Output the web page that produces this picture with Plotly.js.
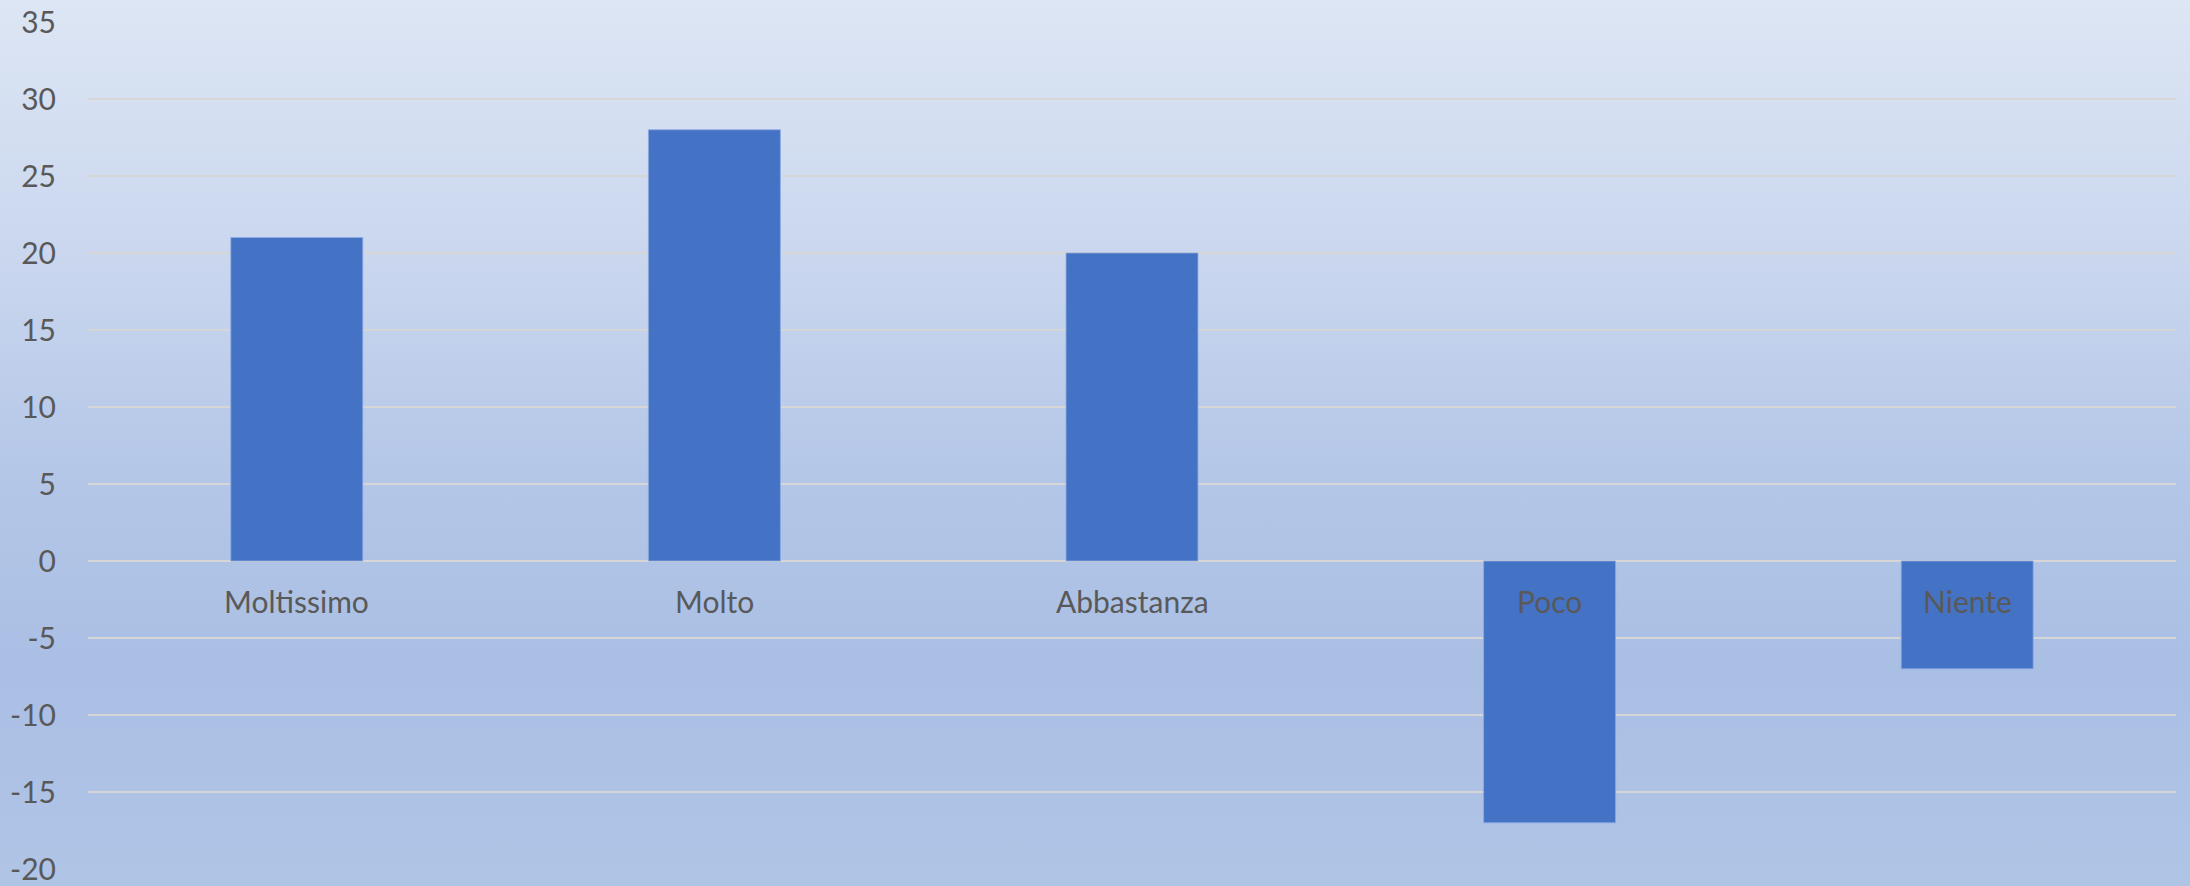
<!DOCTYPE html>
<html>
<head>
<meta charset="utf-8">
<script src="https://cdn.plot.ly/plotly-3.0.1.min.js"></script>
<style>
html, body { margin: 0; padding: 0; }
#chart {
  width: 2190px; height: 886px;
  background: linear-gradient(to bottom, #dde6f4 0%, #c9d6ee 30%, #b3c6e7 55%, #aabfe4 75%, #b0c4e6 100%);
}
</style>
</head>
<body>
<div id="chart"></div>
<script>
const categories = ["Moltissimo", "Molto", "Abbastanza", "Poco", "Niente"];
const values = [21, 28, 20, -17, -7];
const yTicks = [35, 30, 25, 20, 15, 10, 5, 0, -5, -10, -15, -20];

const FONT = "Lato, 'Open Sans', sans-serif";
const labelColor = "#595959";

const trace = {
  type: "bar",
  x: categories,
  y: values,
  marker: { color: "#4472c4", line: { color: "rgba(140,170,225,0.8)", width: 1 } },
  hoverinfo: "x+y"
};

const annotations = categories.map(c => ({
  x: c, y: 0, xref: "x", yref: "y",
  text: c, showarrow: false,
  yanchor: "top", xanchor: "center", yshift: -20,
  font: { family: FONT, size: 30, color: labelColor }
}));

const layout = {
  width: 2190, height: 886,
  margin: { l: 88, r: 14, t: 22, b: 17 },
  paper_bgcolor: "rgba(0,0,0,0)",
  plot_bgcolor: "rgba(0,0,0,0)",
  showlegend: false,
  bargap: 0.684,
  xaxis: { showticklabels: false, showgrid: false, zeroline: false, showline: false, ticks: "" },
  yaxis: {
    range: [-20, 35],
    tickvals: yTicks,
    ticktext: yTicks.map(String),
    showgrid: true, gridcolor: "#d6d6d6", gridwidth: 2,
    zeroline: true, zerolinecolor: "#d6d6d6", zerolinewidth: 2,
    showline: false, ticks: "",
    ticklabelstandoff: 31,
    tickfont: { family: FONT, size: 30, color: labelColor }
  },
  annotations: annotations
};

Plotly.newPlot("chart", [trace], layout, { displayModeBar: false, staticPlot: true });
</script>
</body>
</html>
